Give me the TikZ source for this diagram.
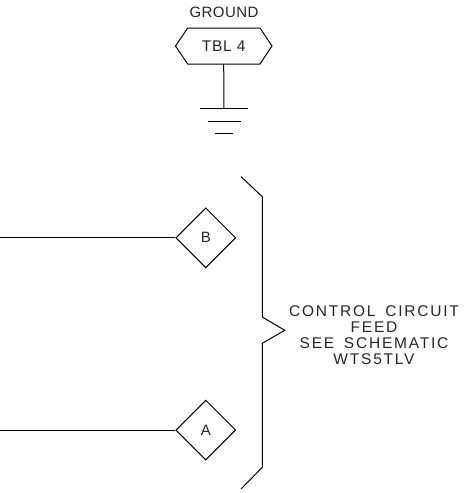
\documentclass[tikz,border=0pt]{standalone}
\usepackage{fontspec}
\setmainfont{Liberation Sans}
\newfontfamily\cadwide[LetterSpace=11.5,WordSpace=1.6]{Liberation Sans}
\newfontfamily\cadtight[LetterSpace=3]{Liberation Sans}
\newfontfamily\cadhex[LetterSpace=5]{Liberation Sans}
\usetikzlibrary{shapes.geometric}
\tikzset{
  wire/.style={draw=black,line width=1pt,line join=miter},
  tagdiamond/.style={diamond,draw=black,line width=1pt,inner sep=0pt,aspect=1,minimum width=60pt,minimum height=60pt,font=\cadtight\fontsize{15}{15}\selectfont,text=black!85},
  hextext/.style={inner sep=0pt,minimum width=96pt,minimum height=36pt,font=\cadhex\fontsize{15.5}{15.5}\selectfont,text=black!85},
  caption/.style={inner sep=0pt,anchor=center,font=\cadwide\fontsize{15.5}{15.5}\selectfont,text=black!85},
  toplabel/.style={inner sep=0pt,anchor=center,font=\cadtight\fontsize{15}{15}\selectfont,text=black!85}
}
\begin{document}
\begin{tikzpicture}[x=1pt,y=-1pt]
\useasboundingbox (0,0) rectangle (464,493);
% top terminal
\node[toplabel] (ground) at (224,12) {GROUND};
\node[hextext] (tbl) at (223.7,46) {TBL 4};
\draw[wire] (tbl.west) -- (187.7,28) -- (260,28) -- (tbl.east) -- (260,64) -- (187.7,64) -- cycle;
\coordinate (gnd) at (224,108.7);
\draw[wire] (tbl.south) -- (gnd);
\coordinate (g1l) at (200,108.7);  \coordinate (g1r) at (248,108.7);
\coordinate (g2l) at (207.7,121);  \coordinate (g2r) at (240.7,121);
\coordinate (g3l) at (215.3,133);  \coordinate (g3r) at (232.7,133);
\draw[wire] (g1l) -- (g1r);
\draw[wire] (g2l) -- (g2r);
\draw[wire] (g3l) -- (g3r);
% diamonds
\node[tagdiamond] (b) at (205.8,237.8) {B};
\node[tagdiamond] (a) at (205.8,430.1) {A};
\coordinate (bfree) at (0,237.8);
\coordinate (afree) at (0,430.1);
\draw[wire] (bfree) -- (b.west);
\draw[wire] (afree) -- (a.west);
% brace
\draw[wire] (241,176.7) -- (262.3,196.7) -- (262.3,317) -- (284.7,330.3) -- (262.3,343.3) -- (262.3,467.3) -- (241,489);
% caption
\node[caption] (c1) at (374,311) {CONTROL CIRCUIT};
\node[caption] (c2) at (374,327) {FEED};
\node[caption] (c3) at (374,343) {SEE SCHEMATIC};
\node[caption] (c4) at (374,359) {WTS5TLV};
\end{tikzpicture}
\end{document}
